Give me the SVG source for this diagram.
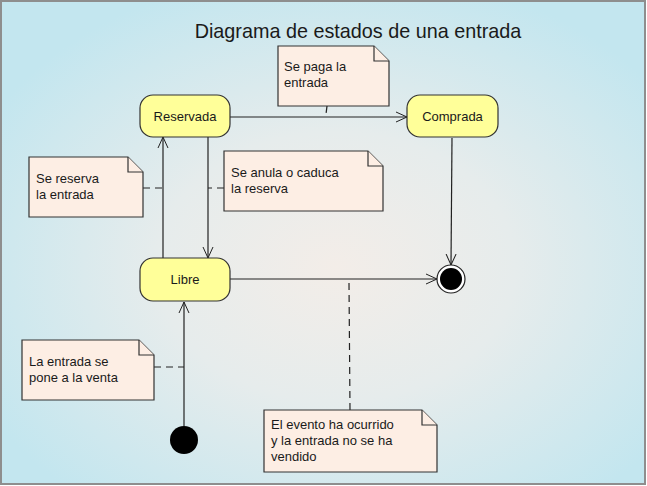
<svg xmlns="http://www.w3.org/2000/svg" width="647" height="486" viewBox="0 0 647 486">
<defs>
<radialGradient id="bg" cx="52%" cy="55%" r="62%" fx="52%" fy="55%">
<stop offset="0" stop-color="#f3ede8"/>
<stop offset="0.45" stop-color="#e6ecec"/>
<stop offset="1" stop-color="#c3e6ef"/>
</radialGradient>
<marker id="arr" viewBox="0 0 12 12" refX="11" refY="6" markerWidth="12" markerHeight="12" markerUnits="userSpaceOnUse" orient="auto">
<path d="M0,1 L11,6 L0,11" fill="none" stroke="#222" stroke-width="1"/>
</marker>
<style>
.state{fill:#ffff99;stroke:#333;stroke-width:1.2}
.note{fill:#fdeee4;stroke:#333;stroke-width:1.2}
.t{font-family:"Liberation Sans",Arial,sans-serif;font-size:13px;fill:#1a1a1a}
.c{text-anchor:middle}
.edge{fill:none;stroke:#222;stroke-width:1.2}
.dash{fill:none;stroke:#222;stroke-width:1.2;stroke-dasharray:7,5}
</style>
</defs>
<rect x="0" y="0" width="647" height="486" fill="#ffffff"/>
<rect x="1" y="1" width="644" height="483" fill="url(#bg)" stroke="#8e8e8e" stroke-width="2"/>
<text x="358" y="38" class="t c" style="font-size:19.8px">Diagrama de estados de una entrada</text>

<g id="connectors">
<line class="edge" x1="230" y1="117" x2="407" y2="117" marker-end="url(#arr)"/>
<line class="edge" x1="163" y1="258" x2="163" y2="137" marker-end="url(#arr)"/>
<line class="edge" x1="208" y1="137" x2="208" y2="258" marker-end="url(#arr)"/>
<line class="edge" x1="230" y1="279" x2="437" y2="279" marker-end="url(#arr)"/>
<line class="edge" x1="452" y1="138" x2="451" y2="265" marker-end="url(#arr)"/>
<line class="edge" x1="184" y1="426" x2="184" y2="302" marker-end="url(#arr)"/>
<line class="dash" x1="327" y1="106" x2="326" y2="114"/>
<line class="dash" x1="143" y1="188" x2="163" y2="188"/>
<line class="dash" x1="224" y1="188" x2="208" y2="188"/>
<line class="dash" x1="154" y1="367" x2="184" y2="367"/>
<line class="dash" x1="349" y1="283" x2="350" y2="410"/>
</g>

<g id="reservada">
<rect class="state" x="140" y="95" width="90" height="42" rx="13"/>
<text x="185" y="121" class="t c">Reservada</text>
</g>
<g id="comprada">
<rect class="state" x="407" y="95" width="91" height="42" rx="13"/>
<text x="452.5" y="121" class="t c">Comprada</text>
</g>
<g id="libre">
<rect class="state" x="140" y="258" width="90" height="43" rx="13"/>
<text x="185" y="284" class="t c">Libre</text>
</g>
<g id="inicio">
<circle cx="184" cy="440" r="14" fill="#000"/>
</g>
<g id="fin">
<circle cx="451" cy="279" r="14" fill="#fff" stroke="#222" stroke-width="1.2"/>
<circle cx="451" cy="279" r="11" fill="#000"/>
</g>

<g id="nota-paga">
<path class="note" d="M278,46 H374 L389,61 V106 H278 Z"/>
<path class="note" d="M374,46 V61 H389" fill="none"/>
<text x="284" y="71" class="t">Se paga la</text>
<text x="284" y="87" class="t">entrada</text>
</g>
<g id="nota-reserva">
<path class="note" d="M29,157 H128 L143,172 V217 H29 Z"/>
<path class="note" d="M128,157 V172 H143" fill="none"/>
<text x="36" y="183" class="t">Se reserva</text>
<text x="36" y="199" class="t">la entrada</text>
</g>
<g id="nota-anula">
<path class="note" d="M224,151 H368 L383,166 V211 H224 Z"/>
<path class="note" d="M368,151 V166 H383" fill="none"/>
<text x="231" y="177" class="t">Se anula o caduca</text>
<text x="231" y="193" class="t">la reserva</text>
</g>
<g id="nota-venta">
<path class="note" d="M22,340 H139 L154,355 V400 H22 Z"/>
<path class="note" d="M139,340 V355 H154" fill="none"/>
<text x="29" y="366" class="t">La entrada se</text>
<text x="29" y="382" class="t">pone a la venta</text>
</g>
<g id="nota-evento">
<path class="note" d="M264,410 H422 L437,425 V472 H264 Z"/>
<path class="note" d="M422,410 V425 H437" fill="none"/>
<text x="271" y="429" class="t">El evento ha ocurrido</text>
<text x="271" y="445" class="t">y la entrada no se ha</text>
<text x="271" y="461" class="t">vendido</text>
</g>
</svg>
